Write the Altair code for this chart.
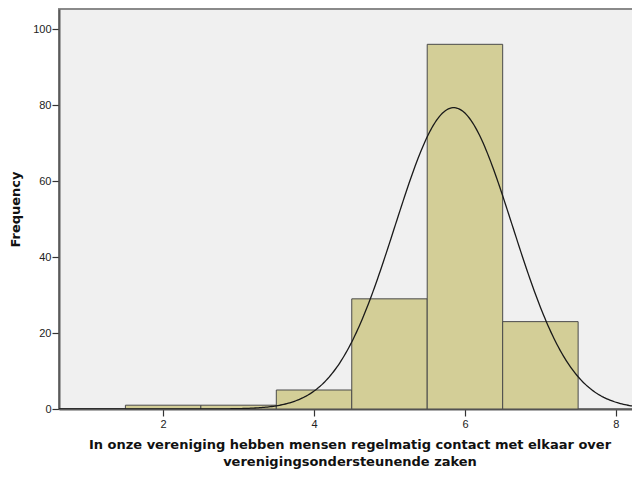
import altair as alt
import pandas as pd

# Data
values = [2, 3, 4, 5, 6, 7]
counts = [1, 1, 5, 29, 96, 23]
x_ticks = [2, 4, 6, 8]
y_ticks = [0, 20, 40, 60, 80, 100]

# normal-curve parameters derived from the counts above
n = sum(counts)
mean = sum(v * c for v, c in zip(values, counts)) / n
var = sum(c * (v - mean) ** 2 for v, c in zip(values, counts)) / (n - 1)
sd = var ** 0.5

bars_df = pd.DataFrame({"value": values, "count": counts})
bars_df["lo"] = bars_df["value"] - 0.5
bars_df["hi"] = bars_df["value"] + 0.5

x_dom = [0.62, 8.32]
y_dom = [0, 105.3]
xs = alt.Scale(domain=x_dom, nice=False, zero=False)
ys = alt.Scale(domain=y_dom, nice=False)

x_title = ["In onze vereniging hebben mensen regelmatig contact met elkaar over",
           "verenigingsondersteunende zaken"]

bars = alt.Chart(bars_df).mark_rect(
    fill="#D3CE97", stroke="#4a4a4a", strokeWidth=1
).encode(
    x=alt.X("lo:Q", scale=xs,
            axis=alt.Axis(values=x_ticks, title=x_title, grid=False, format="d")),
    x2="hi:Q",
    y=alt.Y("count:Q", scale=ys,
            axis=alt.Axis(values=y_ticks, title="Frequency", grid=False)),
    y2=alt.datum(0),
)

curve = alt.Chart(alt.sequence(start=x_dom[0], stop=x_dom[1], step=0.02, as_="x")).transform_calculate(
    y=f"{n} / ({sd} * sqrt(2*PI)) * exp(-0.5 * pow((datum.x - {mean}) / {sd}, 2))"
).mark_line(color="#1a1a1a", strokeWidth=1.3, clip=True).encode(
    x=alt.X("x:Q", scale=xs),
    y=alt.Y("y:Q", scale=ys),
)

chart = alt.layer(bars, curve).properties(
    width=581, height=400,
    autosize=alt.AutoSizeParams(type="none"),
    padding={"left": 51, "top": 1, "right": -8, "bottom": 60},
    background="white",
).configure_view(
    fill="#F0F0F0", stroke="#8a8a8a", strokeWidth=2
).configure_axis(
    domainColor="#5a5a5a", domainWidth=2,
    tickColor="#333333", tickSize=7, tickWidth=1.2,
    labelFont="Liberation Sans", labelFontSize=11, labelColor="#222222",
    titleFont="DejaVu Sans", titleFontSize=13, titleFontWeight="bold", titleColor="#111111",
).configure_axisX(
    labelPadding=2, titlePadding=9, titleLineHeight=17,
).configure_axisY(
    labelPadding=1, titlePadding=10,
)

chart.save("out.html", embed_options={"renderer": "svg", "actions": False})
